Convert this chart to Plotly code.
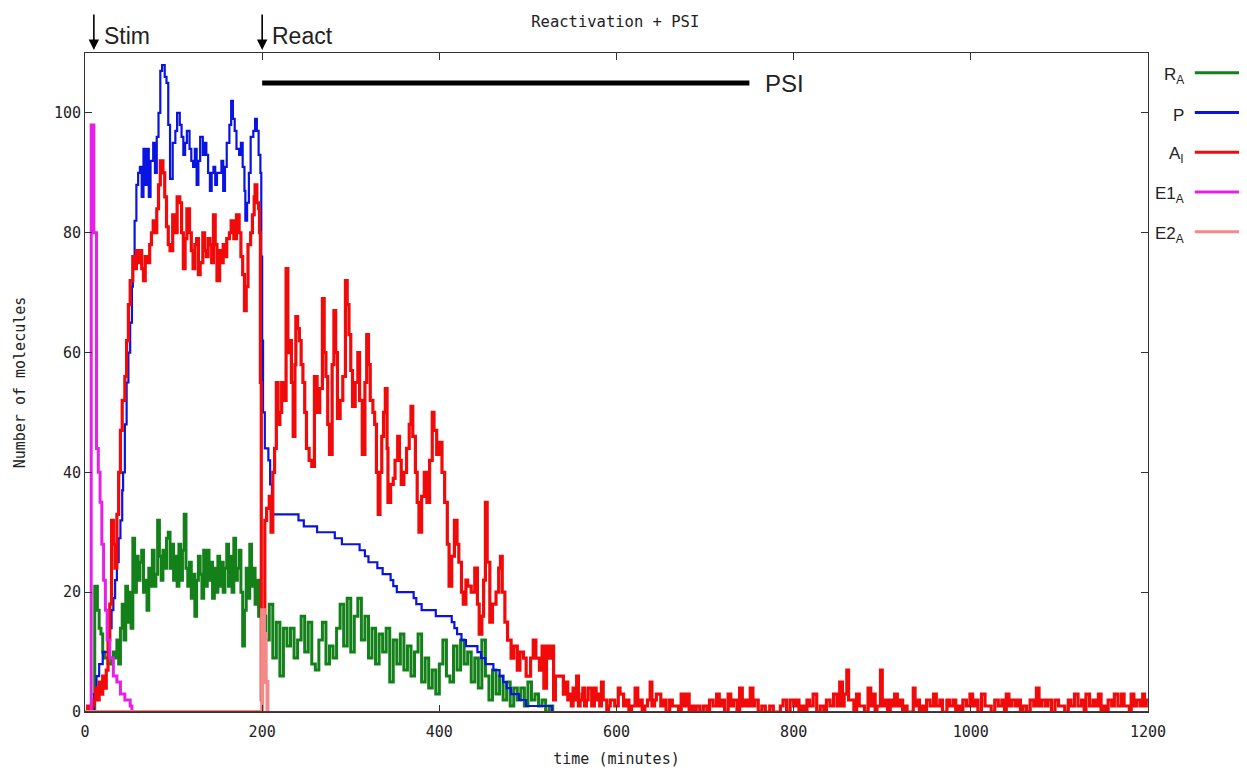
import plotly.graph_objects as go

# --- data (time in minutes, number of molecules) ---

# R_A (green), first phase: one value every 2 min from t=12 to t=196
r_a_t1 = list(range(12, 198, 2))
r_a_v1 = [21, 17, 14, 13, 10, 9, 9, 8, 8, 9, 10, 9, 12, 8, 14,
          18, 12, 21, 15, 20, 14, 29, 20, 26, 22, 25,
          27, 20, 22, 17, 24, 21, 27, 21, 23, 32, 26,
          22, 27, 24, 29, 30, 24, 28, 22, 26, 21, 28,
          22, 27, 33, 24, 21, 25, 19, 23, 16, 22, 26,
          23, 19, 27, 21, 27, 22, 25, 19, 24, 20, 26,
          21, 25, 20, 24, 28, 21, 26, 20, 29, 22, 24,
          27, 20, 11, 17, 24, 19, 28, 21, 24, 18, 22, 16]
# R_A after reactivation: every 4 min from t=204 to t=524
r_a_t2 = list(range(204, 528, 4))
r_a_v2 = [12, 18, 9, 15, 6, 14, 11, 14, 9, 12, 16, 10, 15, 8,
          7, 12, 15, 8, 11, 9, 14, 18, 11, 19, 10, 16, 19, 12, 16, 9, 14, 8, 13,
          10, 14, 5, 12, 8, 13, 7, 11, 6, 10, 13, 5, 9, 4, 7, 3, 8, 12, 6,
          5, 11, 7, 12, 8, 10, 5, 9, 4, 12, 6, 2, 7, 3, 6, 2, 5, 1, 4,
          2, 4, 1, 5, 2, 3, 1, 2, 0, 1]

# P (blue)
p_pts = [(0, 0), (9, 0), (10, 3), (13, 6), (16, 8), (20, 10), (25, 10), (28, 14), (30, 17),
         (32, 19), (34, 22), (36, 25), (38, 29), (40, 32), (42, 37), (43, 40), (45, 48),
         (47, 55), (49, 60), (51, 65), (53, 71), (54, 76), (56, 82), (58, 88), (60, 90),
         (62, 91), (64, 86), (66, 94), (68, 88), (70, 94), (72, 86), (74, 92), (77, 95),
         (79, 90), (81, 96), (83, 100), (85, 107), (87, 108), (90, 106), (92, 105), (94, 98),
         (96, 89), (99, 95), (102, 97), (104, 100), (107, 98), (109, 96), (111, 93), (113, 95),
         (115, 97), (118, 94), (120, 92), (122, 91), (124, 94), (126, 88), (128, 92), (130, 96),
         (133, 93), (135, 95), (137, 93), (139, 90), (141, 87), (143, 90), (145, 91), (147, 88),
         (149, 90), (152, 90), (154, 92), (156, 87), (158, 91), (160, 95), (163, 98), (165, 102),
         (167, 99), (169, 97), (171, 94), (174, 93), (176, 95), (178, 91), (180, 87), (181, 82),
         (183, 85), (185, 90), (187, 96), (190, 97), (192, 99), (194, 97), (196, 93), (198, 90),
         (199, 76), (200, 62), (201, 50), (203, 44), (207, 42), (209, 38), (211, 33), (241, 32),
         (247, 31), (262, 30), (282, 29), (290, 28), (310, 27), (316, 26), (320, 25), (330, 24),
         (336, 23), (345, 22), (348, 21), (352, 20), (371, 19), (374, 18), (380, 17), (396, 16),
         (414, 15), (417, 14), (420, 13), (425, 12), (430, 11), (443, 10), (447, 9), (452, 8),
         (461, 7), (468, 6), (472, 5), (476, 4), (481, 3), (490, 2), (498, 1), (527, 0), (530, 0)]

# A_I (red), stimulation phase
a_i_stim = [(0, 0), (3, 1), (6, 0), (8, 1), (10, 2), (12, 4), (14, 2), (16, 5), (18, 3), (20, 6),
            (22, 4), (24, 7), (26, 12), (28, 18), (30, 32), (32, 28), (34, 24), (36, 33), (38, 40),
            (40, 47), (42, 52), (45, 56), (47, 62), (49, 68), (51, 72), (54, 76), (56, 74), (58, 77),
            (60, 75), (62, 77), (64, 74), (66, 72), (68, 76), (70, 75), (73, 78), (75, 80), (77, 82),
            (79, 80), (81, 84), (83, 88), (85, 92), (88, 90), (90, 86), (92, 81), (94, 78), (96, 77),
            (99, 83), (101, 80), (104, 86), (107, 85), (109, 80), (111, 74), (113, 79), (115, 84),
            (118, 80), (120, 77), (122, 74), (124, 78), (126, 79), (128, 73), (130, 75), (133, 80),
            (135, 77), (137, 76), (139, 79), (141, 78), (143, 75), (145, 83), (147, 78), (149, 72),
            (152, 77), (154, 75), (156, 78), (158, 76), (160, 79), (163, 80), (165, 82), (168, 79),
            (171, 83), (174, 80), (176, 76), (178, 73), (180, 67), (182, 71), (184, 78), (187, 80),
            (189, 83), (191, 86), (192, 88), (194, 85), (196, 84), (197, 80), (198, 55)]
# A_I after reactivation
a_i_react = [(199, 2), (200, 8), (201, 16), (203, 32), (205, 34), (208, 36), (210, 30), (212, 40),
             (214, 44), (216, 55), (218, 48), (220, 50), (222, 55), (224, 52), (227, 74), (229, 60),
             (231, 62), (233, 55), (235, 46), (237, 58), (238, 66), (240, 64), (242, 62), (244, 58),
             (246, 55), (248, 50), (250, 44), (253, 42), (256, 41), (259, 56), (262, 50), (265, 54),
             (268, 69), (270, 60), (272, 56), (274, 48), (276, 43), (279, 58), (281, 67), (283, 60),
             (285, 49), (288, 52), (291, 56), (294, 72), (296, 68), (298, 63), (300, 57), (302, 51),
             (305, 55), (308, 60), (310, 52), (313, 43), (316, 55), (318, 63), (320, 58), (322, 52),
             (325, 50), (327, 48), (329, 40), (331, 33), (333, 40), (335, 46), (337, 50), (339, 54),
             (341, 44), (342, 35), (345, 38), (348, 39), (350, 42), (353, 46), (355, 42), (357, 38),
             (360, 40), (363, 44), (366, 48), (368, 51), (370, 46), (373, 40), (375, 35), (377, 30),
             (380, 36), (383, 40), (386, 35), (389, 42), (392, 50), (394, 47), (397, 43), (400, 45),
             (403, 40), (406, 35), (409, 28), (411, 21), (414, 26), (417, 32), (420, 28), (422, 25),
             (425, 20), (427, 18), (430, 22), (432, 21), (436, 20), (440, 24), (443, 18), (445, 13),
             (448, 16), (450, 22), (452, 35), (454, 25), (457, 15), (460, 18), (464, 20), (467, 24),
             (469, 26), (471, 20), (474, 15), (477, 12), (481, 9), (484, 11), (488, 7), (491, 10),
             (495, 9), (498, 6), (500, 6), (503, 9), (506, 12), (509, 9), (513, 7), (516, 11),
             (518, 4), (521, 11), (524, 9), (527, 11), (529, 2), (531, 6), (538, 6), (540, 3)]
# A_I low tail
a_i_tail = [(543, 5), (545, 2), (547, 3), (549, 1), (551, 4), (553, 2), (555, 6), (557, 1), (559, 2),
            (561, 3), (562, 4), (564, 1), (566, 2), (568, 4), (570, 4), (572, 1), (575, 4), (577, 2),
            (579, 3), (581, 1), (583, 5), (585, 2), (587, 2), (589, 0), (591, 1), (593, 2), (595, 2),
            (598, 1), (602, 4), (604, 3), (606, 3), (608, 1), (611, 2), (614, 0), (617, 1), (621, 4),
            (624, 1), (626, 2), (629, 0), (632, 1), (635, 2), (638, 5), (640, 1), (643, 2), (645, 3),
            (647, 3), (650, 1), (653, 2), (656, 0), (660, 2), (663, 1), (666, 1), (670, 0), (673, 3),
            (676, 1), (679, 3), (682, 0), (685, 1), (688, 0), (690, 1), (694, 0), (698, 1), (702, 0),
            (705, 2), (709, 1), (713, 3), (716, 1), (719, 2), (722, 0), (726, 3), (729, 1), (732, 2),
            (736, 0), (739, 4), (742, 1), (745, 2), (748, 1), (751, 4), (754, 1), (756, 2), (760, 0),
            (764, 1), (768, 0), (773, 1), (777, 0), (781, 0), (785, 1), (788, 2), (792, 0), (796, 2),
            (800, 1), (803, 2), (806, 0), (809, 1), (812, 0), (815, 2), (818, 1), (822, 3), (826, 0),
            (830, 1), (834, 0), (837, 2), (841, 1), (845, 3), (849, 1), (852, 5), (855, 1), (857, 3),
            (860, 7), (862, 2), (865, 2), (868, 0), (871, 3), (874, 1), (877, 1), (880, 0), (884, 4),
            (887, 1), (890, 3), (892, 0), (894, 1), (898, 7), (900, 1), (903, 2), (906, 0), (909, 2),
            (912, 1), (914, 3), (917, 1), (920, 2), (923, 0), (925, 1), (928, 0), (935, 4), (937, 1),
            (939, 2), (942, 0), (944, 1), (947, 0), (950, 2), (954, 1), (958, 3), (961, 1), (965, 2),
            (968, 0), (973, 2), (976, 1), (980, 2), (983, 0), (986, 1), (989, 0), (991, 2), (995, 1),
            (999, 3), (1002, 1), (1005, 2), (1008, 0), (1012, 3), (1016, 1), (1020, 1), (1023, 0),
            (1027, 2), (1031, 1), (1035, 2), (1038, 0), (1040, 3), (1043, 1), (1046, 2), (1050, 1),
            (1053, 2), (1056, 0), (1059, 1), (1063, 0), (1067, 2), (1071, 1), (1074, 4), (1077, 1),
            (1080, 2), (1084, 1), (1087, 2), (1091, 0), (1095, 2), (1099, 1), (1102, 1), (1106, 0),
            (1110, 2), (1113, 1), (1117, 3), (1121, 1), (1125, 2), (1128, 0), (1130, 3), (1134, 1),
            (1138, 2), (1141, 1), (1144, 3), (1147, 0), (1149, 1), (1152, 0), (1155, 2), (1159, 1),
            (1162, 3), (1166, 1), (1170, 3), (1173, 1), (1176, 1), (1179, 0), (1181, 3), (1184, 1),
            (1187, 2), (1191, 1), (1194, 3), (1196, 1), (1198, 2), (1200, 2)]

# E1_A (magenta) and E2_A (salmon)
e1_pts = [(0, 0), (6, 0), (7, 98), (10, 80), (13, 44), (15, 40), (17, 35), (19, 28), (21, 22),
          (23, 17), (25, 12), (28, 9), (32, 6), (36, 5), (40, 3), (45, 2), (51, 1), (53, 0)]
e2_pts = [(0, 0), (199, 0), (200, 17), (202, 13), (204, 5), (206, 0)]

# PSI treatment bar
psi_t = [200, 750]
psi_y = [105, 105]

# event markers
event_t = [10, 200]
event_names = ["Stim", "React"]

legend_labels = ["R<sub>A</sub>", "P", "A<sub>I</sub>", "E1<sub>A</sub>", "E2<sub>A</sub>"]
colors = ["#13801a", "#0a14e0", "#f00a0a", "#e620e6", "#f28a8a"]
widths = [3, 2.2, 3.2, 3, 4]


def unzip(pts):
    return [p[0] for p in pts], [p[1] for p in pts]


series = [
    ([0, 10, 11] + r_a_t1 + r_a_t2 + [528], [0, 0, 21] + r_a_v1 + r_a_v2 + [0]),
    unzip(p_pts),
    unzip(a_i_stim + a_i_react + a_i_tail),
    unzip(e1_pts),
    unzip(e2_pts),
]

fig = go.Figure()
for (xs, ys), name, c, w in zip(series, legend_labels, colors, widths):
    fig.add_trace(go.Scatter(x=xs, y=ys, mode="lines", name=name,
                             line=dict(color=c, width=w, shape="hv")))

fig.add_trace(go.Scatter(x=psi_t, y=psi_y, mode="lines",
                         line=dict(color="black", width=5)))

mono = "DejaVu Sans Mono"
sans = "Liberation Sans"

annotations = []
for t, name in zip(event_t, event_names):
    annotations.append(dict(x=t, y=1, xref="x", yref="paper", text="", showarrow=True,
                            ax=0, ay=-37, arrowhead=2, arrowsize=1.3, arrowwidth=1.6,
                            arrowcolor="black", yshift=3))
    annotations.append(dict(x=t, y=1, xref="x", yref="paper", text=name, showarrow=False,
                            xanchor="left", yanchor="middle", xshift=8, yshift=17,
                            font=dict(family=sans, size=23, color="#222")))
annotations.append(dict(x=psi_t[-1], y=psi_y[-1], xref="x", yref="y", text="PSI",
                        showarrow=False, xanchor="left", yanchor="middle", xshift=14, yshift=-1,
                        font=dict(family=sans, size=24, color="#222")))

# legend drawn on the right, labels right-aligned before the line sample
shapes = [dict(type="line", xref="paper", yref="y", x0=0, x1=1, y0=0, y1=0,
               line=dict(color="#6b2f2f", width=2))]
for i, (lab, c) in enumerate(zip(legend_labels, colors)):
    yp = 0.970 - i * 0.0603
    annotations.append(dict(x=1.036, y=yp, xref="paper", yref="paper", text=lab, showarrow=False,
                            xanchor="right", yanchor="middle", yshift=-3,
                            font=dict(family=sans, size=17, color="#222")))
    shapes.append(dict(type="line", xref="paper", yref="paper", x0=1.044, x1=1.087,
                       y0=yp, y1=yp, line=dict(color=c, width=3)))

axis_style = dict(showline=True, linecolor="#333", linewidth=1, mirror="ticks",
                  ticks="inside", ticklen=7, tickcolor="#333", showgrid=False,
                  zeroline=False, automargin=False,
                  tickfont=dict(family=mono, size=15, color="#222"))

# the page adds an 8 px body margin, so margins are reduced by 8 on left/top
fig.update_layout(
    width=1247, height=770,
    margin=dict(l=77, r=107, t=45, b=66),
    plot_bgcolor="white", paper_bgcolor="white",
    showlegend=False,
    title=dict(text="Reactivation + PSI", x=0.487, xanchor="center",
               y=1 - 14 / 770, yanchor="middle", yref="container",
               font=dict(family=mono, size=15.5, color="#222")),
    xaxis=dict(range=[0, 1200], tickvals=[0, 200, 400, 600, 800, 1000, 1200],
               ticklabelstandoff=6,
               title=dict(text="time (minutes)", standoff=13,
                          font=dict(family=mono, size=15, color="#222")),
               **axis_style),
    yaxis=dict(range=[0, 110], tickvals=[0, 20, 40, 60, 80, 100],
               title=dict(text="Number of molecules", standoff=24,
                          font=dict(family=mono, size=15, color="#222")),
               **axis_style),
    annotations=annotations,
    shapes=shapes,
)

fig.write_html("out.html")
